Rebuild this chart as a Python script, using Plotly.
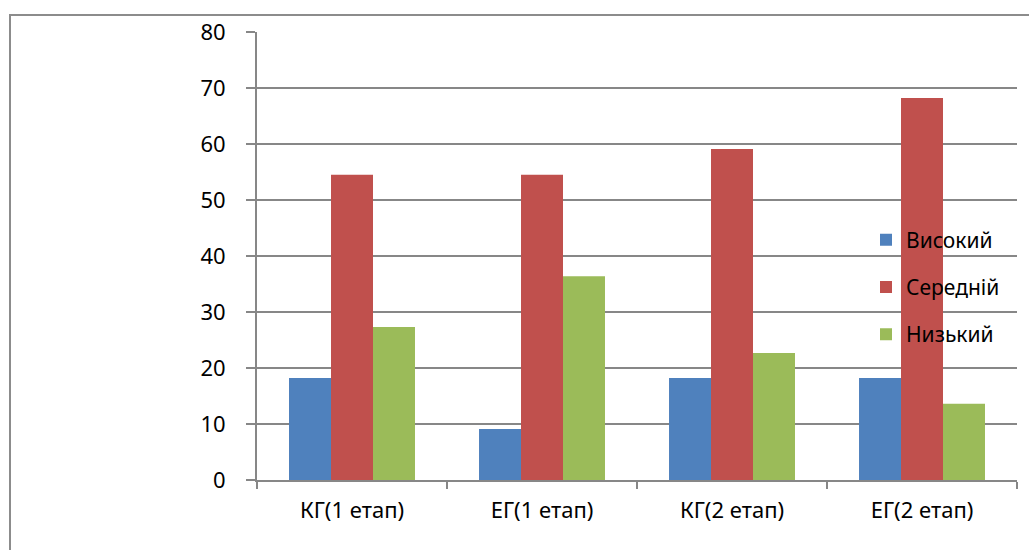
import plotly.graph_objects as go

categories = ["КГ(1 етап)", "ЕГ(1 етап)", "КГ(2 етап)", "ЕГ(2 етап)"]
series_names = ["Високий", "Середній", "Низький"]
vysokyi = [18.2, 9.1, 18.2, 18.2]
serednii = [54.5, 54.5, 59.1, 68.2]
nyzkyi = [27.3, 36.4, 22.7, 13.6]
y_ticks = [0, 10, 20, 30, 40, 50, 60, 70, 80]

colors = ["#4F81BD", "#C0504D", "#9BBB59"]
FONT = "Noto Sans"

fig = go.Figure()
for i, (name, vals) in enumerate(zip(series_names, [vysokyi, serednii, nyzkyi])):
    fig.add_trace(go.Bar(
        x=categories, y=vals, name=name,
        marker=dict(color=colors[i], line=dict(width=0)),
        legendgroup=name,
    ))

W, H = 1029, 550
L, R, T, B = 257, 12, 32, 70
pw, ph = W - L - R, H - T - B

def px_x(x):
    return (x - L) / pw

def px_y(y):
    return (H - B - y) / ph

fig.update_layout(
    width=W, height=H,
    margin=dict(l=L, r=R, t=T, b=B, pad=0),
    paper_bgcolor="white", plot_bgcolor="white",
    font=dict(family=FONT, size=22, color="#000000"),
    barmode="group", bargap=0.337, bargroupgap=0,
    showlegend=True,
    legend=dict(
        x=px_x(866), y=px_y(287), xanchor="left", yanchor="middle",
        font=dict(family=FONT, size=21), tracegroupgap=17,
        bgcolor="rgba(0,0,0,0)", itemsizing="constant",
    ),
    xaxis=dict(
        type="category", showline=True, linecolor="#878787", linewidth=2,
        ticks="outside", tickson="boundaries", ticklen=7, tickcolor="#878787",
        tickwidth=2, showgrid=False, ticklabelstandoff=10,
    ),
    yaxis=dict(
        range=[0, 80], tickvals=y_ticks, showline=True, linecolor="#878787",
        linewidth=2, ticks="outside", ticklen=9, tickcolor="#878787", tickwidth=2,
        showgrid=True, gridcolor="#878787", gridwidth=2, zeroline=False,
        ticklabelstandoff=16,
    ),
    shapes=[dict(
        type="rect", xref="paper", yref="paper",
        x0=px_x(10), x1=px_x(1040), y0=px_y(560), y1=px_y(15),
        line=dict(color="#8C8C8C", width=2), fillcolor="rgba(0,0,0,0)",
        layer="below",
    )],
)

fig.write_html("out.html")
